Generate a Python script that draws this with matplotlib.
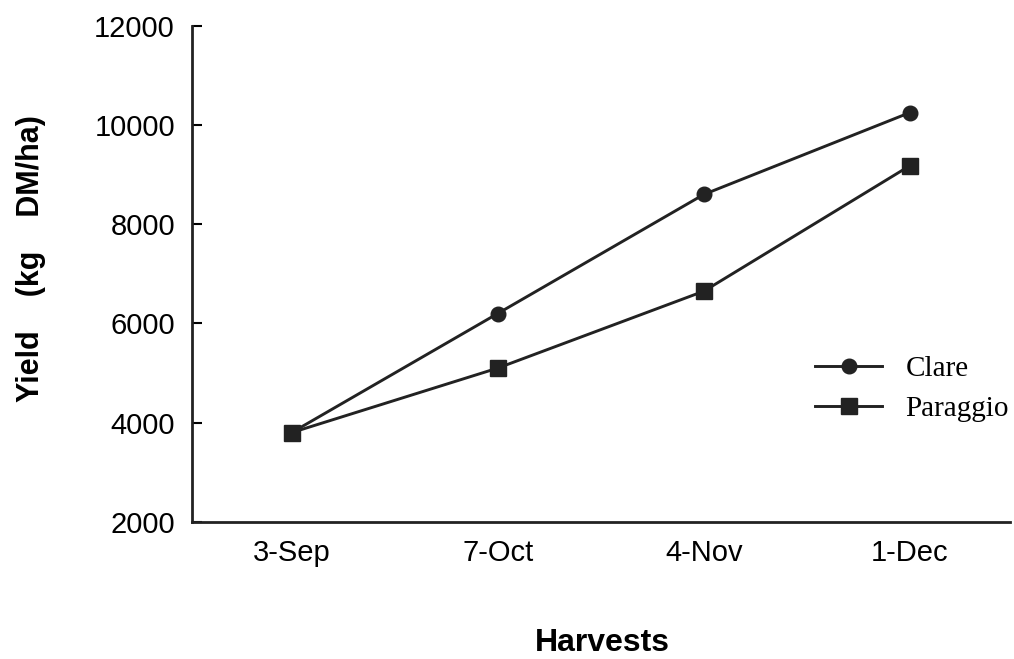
import matplotlib
matplotlib.use("Agg")
import matplotlib.pyplot as plt

harvests = ["3-Sep", "7-Oct", "4-Nov", "1-Dec"]
clare = [3800, 6200, 8600, 10250]
paraggio = [3800, 5100, 6650, 9180]
yticks = [2000, 4000, 6000, 8000, 10000, 12000]

fig = plt.figure(figsize=(10.14, 6.59), dpi=100)
ax = fig.add_axes([0.189, 0.208, 0.807, 0.753])
x = list(range(len(harvests)))
ax.plot(x, clare, color="#222222", lw=2.1, marker="o", ms=10.5, label="Clare")
ax.plot(x, paraggio, color="#222222", lw=2.1, marker="s", ms=11, label="Paraggio")

ax.set_xlim(-0.485, 3.485)
ax.set_ylim(2000, 12000)
ax.set_yticks(yticks)
ax.set_xticks(x)
ax.set_xticklabels(harvests)
for s in ["top", "right"]:
    ax.spines[s].set_visible(False)
for s in ["left", "bottom"]:
    ax.spines[s].set_linewidth(2)
    ax.spines[s].set_color("#222222")
ax.tick_params(axis="y", direction="in", length=7, width=1.5, labelsize=21, pad=12)
ax.tick_params(axis="x", length=0, labelsize=21, pad=12)
for lab in ax.get_xticklabels() + ax.get_yticklabels():
    lab.set_family("Liberation Sans")

fig.text(0.031, 0.607, "Yield    (kg    DM/ha)", fontsize=22, fontweight="bold",
         family="Liberation Sans", rotation=90, ha="center", va="center")
fig.text(0.594, 0.024, "Harvests", fontsize=23, fontweight="bold", family="Liberation Sans",
         ha="center", va="center")

leg = ax.legend(loc="center left", bbox_to_anchor=(0.762, 0.268), frameon=False,
                prop={"family": "Liberation Serif", "size": 21}, handlelength=2.3,
                handletextpad=0.8, labelspacing=0.45, borderpad=0, borderaxespad=0)

fig.savefig("out.png", dpi=100)
